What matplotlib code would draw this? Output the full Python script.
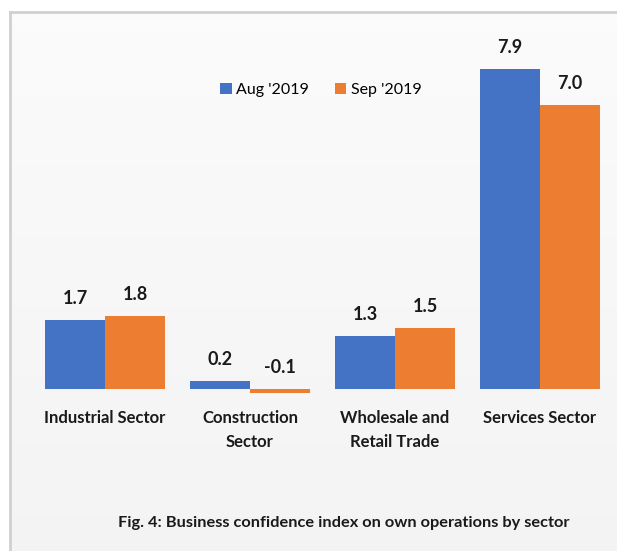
import numpy as np
import matplotlib
matplotlib.use('Agg')
import matplotlib.pyplot as plt

# --- data ---
sectors = ['Industrial Sector', 'Construction\nSector', 'Wholesale and\nRetail Trade', 'Services Sector']
aug_2019 = [1.7, 0.2, 1.3, 7.9]
sep_2019 = [1.8, -0.1, 1.5, 7.0]
series_names = ["Aug '2019", "Sep '2019"]
caption = 'Fig. 4: Business confidence index on own operations by sector'

BLUE = '#4472C4'
ORANGE = '#ED7D31'
W, H = 617, 551

plt.rcParams['font.family'] = ['Lato', 'DejaVu Sans']

fig = plt.figure(figsize=(W / 100, H / 100), dpi=100)
fig.patch.set_facecolor('white')

# light framed panel with a faint vertical gradient
bg = fig.add_axes([10 / W, 0, 1 - 10 / W, 1 - 12 / H], zorder=-10)
grad = np.linspace(0.985, 0.955, 256).reshape(-1, 1)
bg.imshow(np.dstack([grad, grad, grad]), aspect='auto', extent=[0, 1, 0, 1])
bg.set_xticks([])
bg.set_yticks([])
for side in ['right', 'bottom']:
    bg.spines[side].set_visible(False)
for side in ['left', 'top']:
    bg.spines[side].set_color('#d0d0d0')
    bg.spines[side].set_linewidth(2)

# main axes: zero line at y=389 px, 40.5 px per unit; groups every 145 px
px_left, px_right, px_top, px_bot = 20, 617, 40, 400
ax = fig.add_axes([px_left / W, 1 - px_bot / H, (px_right - px_left) / W, (px_bot - px_top) / H])
ax.patch.set_alpha(0)
ax.set_xlim((px_left - 105) / 145, (px_right - 105) / 145)
ax.set_ylim((389 - px_bot) / 40.5, (389 - px_top) / 40.5)
ax.axis('off')

x = np.arange(len(sectors))
bw = 60 / 145
b1 = ax.bar(x - bw / 2, aug_2019, bw, color=BLUE, label=series_names[0], linewidth=0)
b2 = ax.bar(x + bw / 2, sep_2019, bw, color=ORANGE, label=series_names[1], linewidth=0)

for bars, vals in [(b1, aug_2019), (b2, sep_2019)]:
    for rect, v in zip(bars, vals):
        ax.annotate(f'{v:.1f}', (rect.get_x() + rect.get_width() / 2, max(v, 0)),
                    xytext=(0, 9.5), textcoords='offset points', ha='center', va='bottom',
                    fontsize=13, fontweight='bold', color='#1a1a1a')

for xi, name in zip(x, sectors):
    ax.annotate(name, (xi, 0), xytext=(0, -15), textcoords='offset points',
                ha='center', va='top', fontsize=12, fontweight='bold',
                color='#1a1a1a', linespacing=1.6, annotation_clip=False)

ax.legend(loc='center', bbox_to_anchor=(321 / W, 1 - 90 / H), bbox_transform=fig.transFigure,
          ncol=2, frameon=False, fontsize=11.5, handlelength=0.7, handleheight=0.7,
          handletextpad=0.3, columnspacing=1.6)

fig.text(344 / W, 1 - 523 / H, caption, ha='center', va='center',
         fontsize=11.8, fontweight='bold', color='#1a1a1a')

fig.savefig('out.png', dpi=100)
